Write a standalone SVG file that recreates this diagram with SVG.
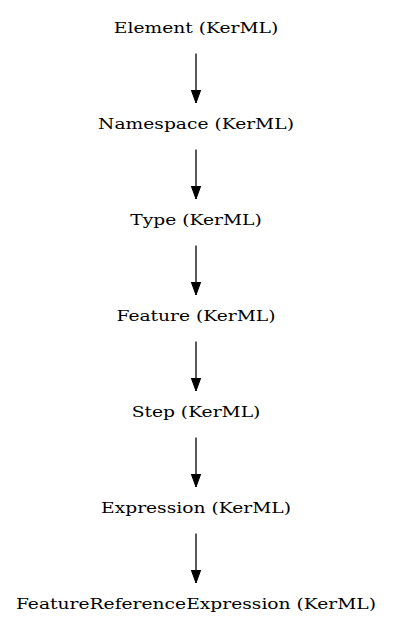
<svg xmlns="http://www.w3.org/2000/svg" width="393" height="635" viewBox="0 0 393 635">
<style>
text{font-family:"DejaVu Serif",serif;font-size:15.5px;text-anchor:middle;fill:#000}
.t{transform:scale(1.205,1)}
.e{stroke:#000;stroke-width:1.3;fill:none}
</style>
<defs><marker id="a" markerWidth="14" markerHeight="10" refX="13" refY="4.7" orient="auto" markerUnits="userSpaceOnUse"><path d="M0,0L13,4.7L0,9.4z" fill="#000" stroke="#000" stroke-width="1"/></marker></defs>
<rect width="393" height="635" fill="#fff"/>
<g id="n1" transform="translate(196,33.3)"><text class="t" x="0" y="0">Element (KerML)</text></g>
<g id="n2" transform="translate(196,129.3)"><text class="t" x="0" y="0">Namespace (KerML)</text></g>
<g id="n3" transform="translate(196,225.3)"><text class="t" x="0" y="0">Type (KerML)</text></g>
<g id="n4" transform="translate(196,321.3)"><text class="t" x="0" y="0">Feature (KerML)</text></g>
<g id="n5" transform="translate(196,417.3)"><text class="t" x="0" y="0">Step (KerML)</text></g>
<g id="n6" transform="translate(196,513.3)"><text class="t" x="0" y="0">Expression (KerML)</text></g>
<g id="n7" transform="translate(196,609.3)"><text class="t" x="0" y="0">FeatureReferenceExpression (KerML)</text></g>
<g id="edges">
<path class="e" d="M196,53.5V103" marker-end="url(#a)"/>
<path class="e" d="M196,149.5V199" marker-end="url(#a)"/>
<path class="e" d="M196,245.5V295" marker-end="url(#a)"/>
<path class="e" d="M196,341.5V391" marker-end="url(#a)"/>
<path class="e" d="M196,437.5V487" marker-end="url(#a)"/>
<path class="e" d="M196,533.5V583" marker-end="url(#a)"/>
</g>
</svg>
